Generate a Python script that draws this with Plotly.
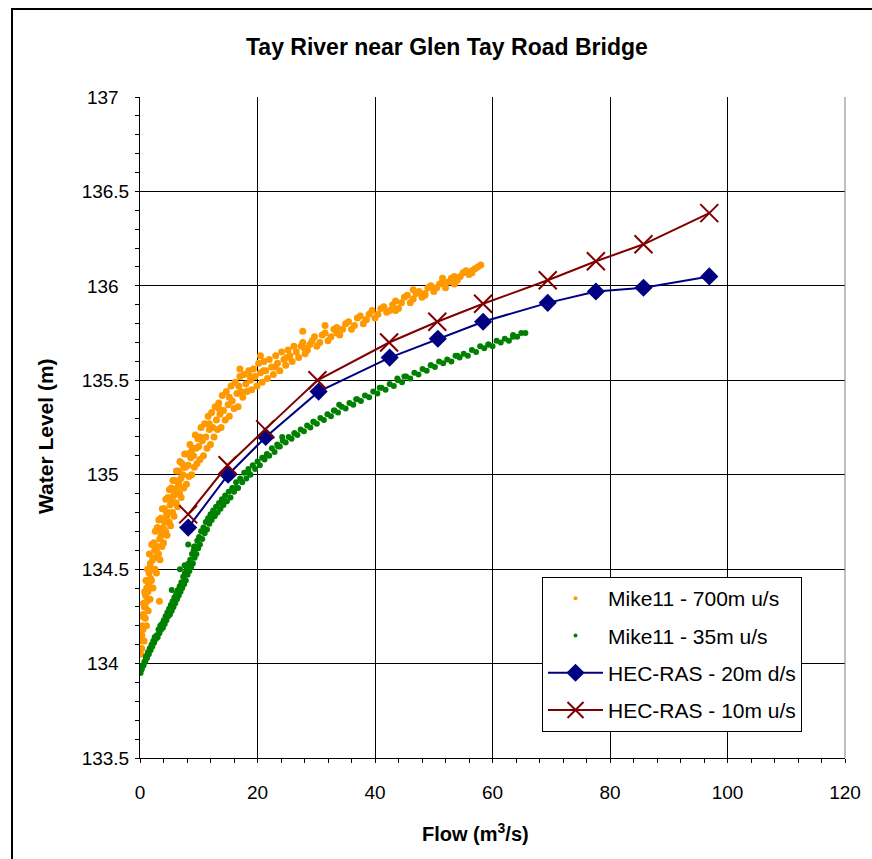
import plotly.graph_objects as go

# ---------------- data ----------------
mike700_flow = [0.0, 0.1, 0.2, 0.3, 0.4, 0.5, 0.6, 0.7, 0.8, 0.9, 1.0, 1.1, 1.2, 1.3, 1.4, 1.5, 1.6, 1.7, 1.9, 2.0,
                2.2, 2.4, 2.6, 2.8, 3.0, 3.2, 3.4, 3.6, 3.8, 4.0, 4.2, 4.4, 4.6, 4.8, 5.0, 5.2, 5.4, 5.6, 5.8, 6.0,
                6.2, 6.4, 6.6, 6.8, 7.0, 7.3, 7.6, 7.9, 8.2, 8.5, 8.8, 9.1, 9.4, 9.7, 10.0, 10.4, 10.8, 11.2, 11.6, 12.0,
                12.4, 12.8, 13.2, 13.6, 14.0, 14.5, 15.0, 15.5, 16.0, 16.5, 17.0, 17.5, 18.0, 18.5, 19.0, 19.6, 20.2, 20.8, 21.4, 22.0,
                22.7, 23.4, 24.1, 24.8, 25.5, 26.2, 27.0, 27.7, 28.5, 29.3, 30.1, 31.0, 32.0, 33.0, 34.0, 35.0, 36.0, 37.0, 38.0, 39.0,
                40.0, 41.0, 42.0, 43.0, 44.0, 45.0, 46.0, 47.0, 48.0, 49.0, 50.0, 51.0, 52.0, 53.0, 54.0, 55.0, 56.0, 57.0, 58.0,
                3.3, 27.7, 17.0, 20.5, 31.5, 46.5, 51.5, 0.3, 0.9, 1.8, 2.5, 3.5, 4.5, 5.5, 6.5, 7.5, 8.7, 10.2, 11.8, 13.4,
                15.2, 16.8, 18.8, 21.0, 23.0, 25.0, 28.0, 33.5, 38.5, 43.5, 48.5, 53.5, 56.5,
                0.15, 0.35, 0.55, 0.75, 0.95, 1.15, 1.35, 1.55, 1.75, 1.95, 2.15, 2.35, 2.55, 2.75, 2.95, 3.15, 3.35, 3.55, 3.75, 3.95,
                4.15, 4.35, 4.55, 4.75, 4.95, 5.15, 5.35, 5.55, 5.75, 5.95, 6.15, 6.35, 6.55, 6.75, 6.95, 7.15, 7.45, 7.75, 8.05, 8.35,
                8.65, 8.95, 9.25, 9.55, 9.85, 10.2, 10.6, 11.0, 11.4, 11.8, 12.2, 12.6, 13.0, 13.4, 13.8, 14.2, 14.7, 15.2, 15.7, 16.2,
                16.7, 17.2, 17.7, 18.2, 18.8, 19.3, 19.9, 20.5, 21.1, 21.7, 22.4, 23.1, 23.8, 24.5, 25.2, 25.9, 26.6, 27.4, 28.1, 28.9,
                29.7, 30.6, 31.5, 32.5, 33.5, 34.5, 35.5, 36.5, 37.5, 38.5, 39.5, 40.5, 41.5, 42.5, 43.5, 44.5, 45.5, 46.5, 47.5, 48.5,
                49.5, 50.5, 51.5, 52.5, 53.5, 54.5, 55.5, 56.5, 57.5]
mike700_level = [133.98, 134.05, 134.15, 134.08, 134.25, 134.18, 134.32, 134.12, 134.38, 134.24, 134.44, 134.20, 134.33, 134.50, 134.28, 134.42, 134.58, 134.34, 134.50, 134.63,
                 134.40, 134.56, 134.70, 134.48, 134.62, 134.76, 134.55, 134.68, 134.82, 134.64, 134.75, 134.87, 134.68, 134.80, 134.92, 134.73, 134.86, 134.97, 134.78, 134.90,
                 135.02, 134.83, 134.95, 135.07, 134.88, 135.00, 135.11, 134.95, 135.05, 135.16, 135.00, 135.10, 135.21, 135.06, 135.15, 135.25, 135.10, 135.20, 135.31, 135.16,
                 135.25, 135.36, 135.24, 135.32, 135.42, 135.29, 135.37, 135.47, 135.35, 135.43, 135.52, 135.41, 135.48, 135.55, 135.45, 135.52, 135.59, 135.49, 135.55, 135.61,
                 135.53, 135.59, 135.65, 135.58, 135.63, 135.68, 135.62, 135.70, 135.66, 135.71, 135.68, 135.74, 135.71, 135.77, 135.74, 135.80, 135.77, 135.83, 135.80, 135.85,
                 135.83, 135.88, 135.86, 135.90, 135.88, 135.94, 135.91, 135.96, 135.94, 135.99, 135.97, 136.01, 135.99, 136.04, 136.03, 136.07, 136.06, 136.09, 136.11,
                 134.33, 135.76, 135.56, 135.63, 135.79, 135.98, 136.04, 134.15, 134.30, 134.45, 134.60, 134.70, 134.80, 134.88, 134.96, 135.04, 135.12, 135.20, 135.27, 135.35,
                 135.41, 135.47, 135.52, 135.55, 135.57, 135.62, 135.67, 135.75, 135.82, 135.87, 135.95, 136.01, 136.07,
                 134.12, 134.20, 134.26, 134.30, 134.36, 134.40, 134.38, 134.48, 134.53, 134.44, 134.55, 134.64, 134.50, 134.60, 134.72, 134.58, 134.66, 134.77, 134.62, 134.72,
                 134.82, 134.70, 134.78, 134.88, 134.75, 134.84, 134.93, 134.80, 134.89, 134.97, 134.85, 134.93, 135.02, 134.90, 134.98, 135.06, 134.93, 135.04, 135.11, 134.99,
                 135.09, 135.14, 135.04, 135.14, 135.19, 135.08, 135.18, 135.27, 135.14, 135.24, 135.33, 135.20, 135.29, 135.38, 135.25, 135.34, 135.44, 135.31, 135.39, 135.49,
                 135.36, 135.44, 135.53, 135.44, 135.50, 135.56, 135.47, 135.54, 135.60, 135.51, 135.57, 135.63, 135.55, 135.61, 135.66, 135.60, 135.65, 135.68, 135.64, 135.69,
                 135.73, 135.70, 135.75, 135.73, 135.78, 135.77, 135.81, 135.79, 135.84, 135.82, 135.87, 135.85, 135.89, 135.87, 135.92, 135.91, 135.95, 135.93, 135.97, 135.96,
                 136.00, 135.99, 136.02, 136.02, 136.05, 136.05, 136.08, 136.08, 136.10]

mike35_flow = [0.1, 0.3, 0.6, 0.9, 1.2, 1.5, 1.8, 2.1, 2.4, 2.7, 3.0, 3.3, 3.6, 3.9, 4.2, 4.5, 4.8, 5.1, 5.4, 5.7,
               6.0, 6.3, 6.6, 6.9, 7.2, 7.5, 7.8, 8.1, 8.4, 8.7, 9.0, 9.3, 9.6, 9.9, 10.2, 10.6, 11.0, 11.4, 11.8, 12.2,
               12.7, 13.2, 13.7, 14.2, 14.8, 15.4, 16.0, 16.7, 17.4, 18.1, 18.8, 19.6, 20.4, 21.2, 22.0, 22.9, 23.8, 24.8, 25.8, 26.8,
               27.9, 29.0, 30.1, 31.3, 32.5, 33.7, 35.0, 36.3, 37.6, 39.0, 40.4, 41.8, 43.2, 44.6, 46.0, 47.4, 48.8, 50.2, 51.6, 53.0,
               54.4, 55.8, 57.2, 58.6, 60.0, 61.4, 62.8, 64.2, 65.6,
               1.0, 2.5, 3.8, 5.0, 6.2, 7.4, 8.6, 9.8, 11.2, 12.8, 14.5, 16.3, 18.5, 21.0, 23.5, 26.3, 29.5, 33.0, 36.8, 40.8,
               45.0, 49.5, 54.0, 59.3, 63.5, 5.4, 6.8, 8.2, 7.6, 9.2, 24.2, 33.9, 43.8,
               0.2, 0.45, 0.75, 1.05, 1.35, 1.65, 1.95, 2.25, 2.55, 2.85, 3.15, 3.45, 3.75, 4.05, 4.35, 4.65, 4.95, 5.25, 5.55, 5.85,
               6.15, 6.45, 6.75, 7.05, 7.35, 7.65, 7.95, 8.25, 8.55, 8.85, 9.15, 9.45, 9.75, 10.05, 10.4, 10.8, 11.2, 11.6, 12.0, 12.45,
               12.95, 13.45, 13.95, 14.5, 15.1, 15.7, 16.35, 17.05, 17.75, 18.45, 19.2, 20.0, 20.8, 21.6, 22.45, 23.35, 24.3, 25.3, 26.3, 27.35,
               28.45, 29.55, 30.7, 31.9, 33.1, 34.35, 35.65, 36.95, 38.3, 39.7, 41.1, 42.5, 43.9, 45.3, 46.7, 48.1, 49.5, 50.9, 52.3, 53.7,
               55.1, 56.5, 57.9, 59.3, 60.7, 62.1, 63.5, 64.9]
mike35_level = [133.95, 133.97, 133.99, 134.01, 134.03, 134.05, 134.07, 134.09, 134.11, 134.13, 134.14, 134.16, 134.18, 134.19, 134.21, 134.23, 134.25, 134.26, 134.28, 134.30,
                134.32, 134.34, 134.36, 134.38, 134.40, 134.42, 134.44, 134.47, 134.49, 134.51, 134.53, 134.56, 134.58, 134.61, 134.63, 134.66, 134.69, 134.71, 134.74, 134.76,
                134.78, 134.80, 134.82, 134.84, 134.86, 134.88, 134.91, 134.93, 134.96, 134.98, 135.00, 135.03, 135.05, 135.08, 135.10, 135.12, 135.15, 135.17, 135.19, 135.21,
                135.23, 135.25, 135.27, 135.29, 135.31, 135.33, 135.35, 135.37, 135.39, 135.41, 135.43, 135.45, 135.47, 135.49, 135.51, 135.53, 135.55, 135.57, 135.59, 135.60,
                135.62, 135.63, 135.65, 135.67, 135.68, 135.70, 135.71, 135.73, 135.75,
                134.03, 134.14, 134.21, 134.28, 134.35, 134.43, 134.52, 134.62, 134.71, 134.79, 134.86, 134.93, 135.01, 135.09, 135.15, 135.22, 135.28, 135.34, 135.40, 135.46,
                135.52, 135.58, 135.63, 135.69, 135.73, 134.39, 134.50, 134.63, 134.52, 134.62, 135.20, 135.37, 135.51,
                133.97, 133.99, 134.01, 134.04, 134.06, 134.08, 134.10, 134.12, 134.14, 134.15, 134.18, 134.20, 134.21, 134.23, 134.25, 134.27, 134.29, 134.31, 134.33, 134.35,
                134.37, 134.39, 134.41, 134.43, 134.46, 134.48, 134.50, 134.53, 134.55, 134.58, 134.60, 134.62, 134.65, 134.67, 134.70, 134.72, 134.75, 134.77, 134.79, 134.81,
                134.83, 134.85, 134.87, 134.89, 134.91, 134.93, 134.96, 134.98, 135.01, 135.03, 135.05, 135.07, 135.09, 135.11, 135.14, 135.16, 135.18, 135.20, 135.22, 135.24,
                135.26, 135.28, 135.30, 135.32, 135.34, 135.36, 135.38, 135.40, 135.42, 135.44, 135.46, 135.48, 135.50, 135.52, 135.54, 135.56, 135.58, 135.60, 135.61, 135.63,
                135.64, 135.66, 135.68, 135.69, 135.71, 135.72, 135.74, 135.75]

hec20_flow = [8.2, 15.0, 21.4, 30.4, 42.5, 50.7, 58.4, 69.4, 77.6, 85.7, 96.9]
hec20_level = [134.72, 135.00, 135.20, 135.44, 135.62, 135.72, 135.81, 135.91, 135.97, 135.99, 136.05]

hec10_flow = [8.2, 14.9, 21.3, 30.2, 42.4, 50.6, 58.4, 69.4, 77.6, 85.7, 96.9]
hec10_level = [134.79, 135.05, 135.24, 135.50, 135.70, 135.81, 135.905, 136.03, 136.13, 136.22, 136.385]

x_ticks = [0, 20, 40, 60, 80, 100, 120]
y_ticks = [133.5, 134, 134.5, 135, 135.5, 136, 136.5, 137]
y_tick_labels = ["133.5", "134", "134.5", "135", "135.5", "136", "136.5", "137"]

FONT = "Liberation Sans, Arial, sans-serif"
PAD = "\u2007"  # figure space, keeps labels roughly centred like the original

fig = go.Figure()
# data traces (legend handled by small-marker proxies)
fig.add_trace(go.Scatter(x=mike700_flow, y=mike700_level, mode="markers", showlegend=False,
                         legendgroup="a", marker=dict(color="#FF9900", size=7)))
fig.add_trace(go.Scatter(x=mike35_flow, y=mike35_level, mode="markers", showlegend=False,
                         legendgroup="b", marker=dict(color="#008000", size=6)))
fig.add_trace(go.Scatter(x=[None], y=[None], mode="markers", name="Mike11 - 700m u/s",
                         legendgroup="a", marker=dict(color="#FF9900", size=4)))
fig.add_trace(go.Scatter(x=[None], y=[None], mode="markers", name="Mike11 - 35m u/s",
                         legendgroup="b", marker=dict(color="#008000", size=4)))
fig.add_trace(go.Scatter(x=hec20_flow, y=hec20_level, mode="lines+markers", name="HEC-RAS - 20m d/s",
                         legendgroup="c", line=dict(color="#000080", width=2),
                         marker=dict(color="#000080", symbol="diamond", size=14)))
fig.add_trace(go.Scatter(x=hec10_flow, y=hec10_level, mode="lines+markers", name="HEC-RAS - 10m u/s",
                         legendgroup="d", line=dict(color="#800000", width=2),
                         marker=dict(color="#800000", symbol="x-thin-open", size=18,
                                     line=dict(color="#800000", width=2))))

axis_common = dict(showline=True, linecolor="black", linewidth=1, mirror=False,
                   showgrid=True, gridcolor="black", gridwidth=1, zeroline=False,
                   tickfont=dict(family=FONT, size=19, color="black"),
                   ticks="outside", ticklen=4, tickcolor="black")

fig.update_layout(
    width=872, height=859,
    margin=dict(l=140, r=27, t=97, b=101),
    paper_bgcolor="white", plot_bgcolor="white",
    font=dict(family=FONT, color="black"),
    showlegend=True,
    xaxis=dict(range=[0, 120], tickvals=x_ticks, ticktext=[str(v) for v in x_ticks], ticklabelstandoff=13,
               minor=dict(dtick=4, tick0=0, ticks="outside", ticklen=4, tickcolor="black", showgrid=False),
               **axis_common),
    yaxis=dict(range=[133.5, 137], tickvals=y_ticks,
               ticktext=[t if "." in t else t + PAD for t in y_tick_labels], ticklabelstandoff=2,
               minor=dict(dtick=0.1, tick0=133.5, ticks="outside", ticklen=4, tickcolor="black", showgrid=False),
               **axis_common),
    xaxis2=dict(overlaying="x", range=[0, 120], side="bottom", anchor="y", showgrid=False, showticklabels=False,
                tickvals=x_ticks, ticks="inside", ticklen=4, tickcolor="black", zeroline=False,
                minor=dict(dtick=4, tick0=0, ticks="inside", ticklen=4, tickcolor="black")),
    yaxis2=dict(overlaying="y", range=[133.5, 137], side="left", anchor="x", showgrid=False, showticklabels=False,
                tickvals=y_ticks, ticks="inside", ticklen=4, tickcolor="black", zeroline=False,
                minor=dict(dtick=0.1, tick0=133.5, ticks="inside", ticklen=4, tickcolor="black")),
    legend=dict(x=(542 - 140) / 705, y=(758 - 577) / 661, xanchor="left", yanchor="top",
                bgcolor="white", bordercolor="black", borderwidth=1,
                font=dict(family=FONT, size=21, color="black"),
                traceorder="grouped", tracegroupgap=7, itemwidth=55),
    shapes=[
        dict(type="line", xref="paper", yref="paper", x0=1, x1=1, y0=0, y1=1,
             line=dict(color="#808080", width=1)),
        dict(type="rect", xref="paper", yref="paper",
             x0=(12 - 140) / 705, x1=(900 - 140) / 705, y0=(758 - 900) / 661, y1=(758 - 9) / 661,
             line=dict(color="black", width=2), fillcolor="rgba(0,0,0,0)"),
    ],
    annotations=[
        dict(text="<b>Tay River near Glen Tay Road Bridge</b>", xref="paper", yref="paper",
             x=(447 - 140) / 705, y=(758 - 47) / 661, xanchor="center", yanchor="middle",
             showarrow=False, font=dict(family=FONT, size=23, color="black")),
        dict(text="<b>Water Level (m)</b>", xref="paper", yref="paper", textangle=-90,
             x=(45 - 140) / 705, y=(758 - 436) / 661, xanchor="center", yanchor="middle",
             showarrow=False, font=dict(family=FONT, size=21, color="black")),
        dict(text="<b>Flow (m<sup>3</sup>/s)</b>", xref="paper", yref="paper",
             x=(475 - 140) / 705, y=(758 - 832) / 661, xanchor="center", yanchor="middle",
             showarrow=False, font=dict(family=FONT, size=20, color="black")),
    ],
)

fig.write_html("out.html")
